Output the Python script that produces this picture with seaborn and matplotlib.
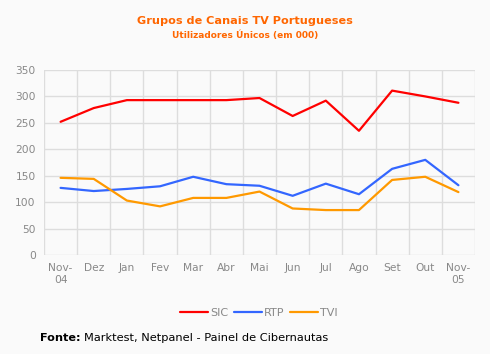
import matplotlib
matplotlib.use("Agg")
import matplotlib.pyplot as plt
import seaborn as sns
import pandas as pd
import numpy as np
from matplotlib.ticker import FixedLocator

months = ["Nov-\n04", "Dez", "Jan", "Fev", "Mar", "Abr", "Mai", "Jun", "Jul", "Ago", "Set", "Out", "Nov-\n05"]
sic = [252, 278, 293, 293, 293, 293, 297, 263, 292, 235, 311, 300, 288]
rtp = [127, 121, 125, 130, 148, 134, 131, 112, 135, 115, 163, 180, 132]
tvi = [146, 144, 103, 92, 108, 108, 120, 88, 85, 85, 142, 148, 119]
series = ["SIC", "RTP", "TVI"]
colors = {"SIC": "#FF0000", "RTP": "#3366FF", "TVI": "#FF9900"}
yticks = [0, 50, 100, 150, 200, 250, 300, 350]

sns.set_theme(style="white")
plt.rcParams['font.family'] = ['DejaVu Sans']

rows = []
for name, vals in zip(series, [sic, rtp, tvi]):
    for i, v in enumerate(vals):
        rows.append({"x": i, "value": v, "series": name})
df = pd.DataFrame(rows)

bg = "#FAFAFA"
fig = plt.figure(figsize=(4.9, 3.54), dpi=100, facecolor=bg)
ax = fig.add_axes([44/490, 1-255/354, 431/490, 185/354])
ax.set_facecolor(bg)

sns.lineplot(data=df, x="x", y="value", hue="series", palette=colors,
             hue_order=series, linewidth=1.6, ax=ax, legend=False)

ax.set_xlim(-0.5, len(months) - 0.5)
ax.set_ylim(0, 350)
ax.set_xticks(range(len(months)))
ax.set_xticklabels(months)
ax.xaxis.set_minor_locator(FixedLocator(np.arange(-0.5, len(months), 1.0)))
ax.set_yticks(yticks)
ax.grid(False)
for xv in np.arange(-0.5, len(months), 1.0):
    ax.axvline(xv, color="#DDDDDD", lw=1, zorder=0)
for yv in yticks:
    ax.axhline(yv, color="#DDDDDD", lw=1, zorder=0)
for s in ax.spines.values():
    s.set_visible(False)
ax.tick_params(axis="x", which="major", length=0, labelsize=7.7, labelcolor="#888888", pad=6)
ax.tick_params(axis="x", which="minor", length=4, color="#DDDDDD", width=1)
ax.tick_params(axis="y", length=0, labelsize=7.7, labelcolor="#888888", pad=6)
ax.set_xlabel("")
ax.set_ylabel("")

fig.text(0.5, 1-21/354, "Grupos de Canais TV Portugueses", ha="center", va="center",
         color="#FF6600", fontsize=8.1, fontweight="bold")
fig.text(0.5, 1-35/354, "Utilizadores Únicos (em 000)", ha="center", va="center",
         color="#FF6600", fontsize=6.5, fontweight="bold")

handles = [plt.Line2D([], [], color=colors[s], lw=1.6) for s in series]
fig.legend(handles, series, loc="center", bbox_to_anchor=(259/490, 1-313/354), ncol=3,
           frameon=False, fontsize=8, labelcolor="#888888", handlelength=2.5,
           handletextpad=0.2, columnspacing=0.5)

fig.text(40/490, 1-338/354, "Fonte:", ha="left", va="center", fontsize=8.1,
         fontweight="bold", color="black")
fig.text(84/490, 1-338/354, "Marktest, Netpanel - Painel de Cibernautas", ha="left",
         va="center", fontsize=8.2, color="black")

fig.savefig("out.png", dpi=100, facecolor=bg)
